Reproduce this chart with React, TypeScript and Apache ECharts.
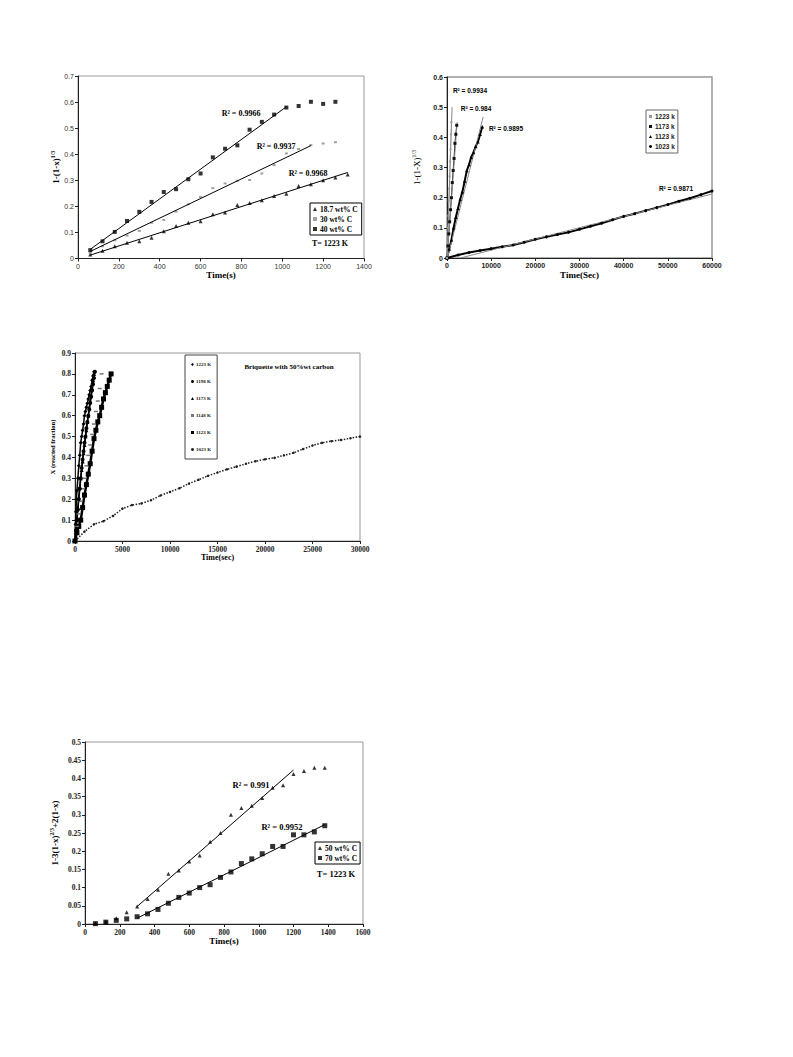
import React, { useEffect, useRef } from "react";
import * as echarts from "echarts";

const SERIF = "'Liberation Serif', 'Times New Roman', serif";
const SANS = "'Liberation Sans', Arial, sans-serif";

// ---------- Chart 1 (top-left) ----------
const c1Time187 = [60, 120, 180, 240, 300, 360, 420, 480, 540, 600, 660, 720, 780, 840, 900, 960, 1020, 1080, 1140, 1200, 1260, 1320];
const c1Time = [60, 120, 180, 240, 300, 360, 420, 480, 540, 600, 660, 720, 780, 840, 900, 960, 1020, 1080, 1140, 1200, 1260];
const c1V187 = [0.015, 0.03, 0.047, 0.06, 0.066, 0.08, 0.105, 0.125, 0.137, 0.143, 0.17, 0.176, 0.205, 0.213, 0.223, 0.24, 0.248, 0.278, 0.285, 0.3, 0.311, 0.322];
const c1V30 = [0.02, 0.047, 0.07, 0.088, 0.106, 0.137, 0.148, 0.18, 0.208, 0.236, 0.27, 0.288, 0.298, 0.301, 0.326, 0.358, 0.403, 0.42, 0.435, 0.441, 0.446];
const c1V40 = [0.032, 0.066, 0.102, 0.144, 0.179, 0.217, 0.255, 0.266, 0.304, 0.326, 0.388, 0.421, 0.434, 0.494, 0.524, 0.552, 0.579, 0.585, 0.601, 0.593, 0.601];
const c1Fit187 = [[60, 0.013], [1320, 0.33]];
const c1Fit30 = [[60, 0.027], [1140, 0.433]];
const c1Fit40 = [[60, 0.035], [1020, 0.582]];
const c1XTicks = { min: 0, max: 1400, interval: 200 };
const c1YTicks = { min: 0, max: 0.7, interval: 0.1 };

// ---------- Chart 2 (top-right) ----------
const c2T1223 = [0, 100, 200, 300, 400, 500, 600, 700, 800, 900, 1000];
const c2V1223 = [0, 0.05, 0.1, 0.14, 0.19, 0.23, 0.27, 0.32, 0.36, 0.41, 0.45];
const c2T1173 = [0, 200, 400, 600, 800, 1000, 1200, 1400, 1600, 1800, 2000, 2200];
const c2V1173 = [0, 0.04, 0.08, 0.12, 0.16, 0.2, 0.25, 0.29, 0.33, 0.38, 0.41, 0.44];
const c2T1123 = [0, 500, 1000, 1500, 2000, 2500, 3000, 3500, 4000, 4500, 5000, 5500, 6000, 6500, 7000, 7500, 8000];
const c2V1123 = [0, 0.03, 0.06, 0.1, 0.135, 0.165, 0.195, 0.22, 0.255, 0.29, 0.31, 0.335, 0.35, 0.37, 0.385, 0.41, 0.435];
const c2T1023 = [0, 2500, 5000, 7500, 10000, 12500, 15000, 17500, 20000, 22500, 25000, 27500, 30000, 32500, 35000, 37500, 40000, 42500, 45000, 47500, 50000, 52500, 55000, 57500, 60000];
const c2V1023 = [0, 0.01, 0.018, 0.025, 0.031, 0.037, 0.043, 0.052, 0.062, 0.07, 0.078, 0.085, 0.095, 0.105, 0.115, 0.127, 0.138, 0.147, 0.157, 0.167, 0.177, 0.188, 0.198, 0.21, 0.222];
const c2Fit1223 = [[0, 0], [1150, 0.5]];
const c2Fit1173 = [[0, 0], [2300, 0.45]];
const c2Fit1123 = [[0, -0.005], [8200, 0.468]];
const c2Fit1023 = [[3000, 0], [60000, 0.212]];
const c2XTicks = { min: 0, max: 60000, interval: 10000 };
const c2YTicks = { min: 0, max: 0.6, interval: 0.1 };

// ---------- Chart 3 (middle-left) ----------
const c3T1223 = [0, 50, 100, 150, 200, 300, 400, 500, 600, 700, 800, 900, 1000, 1100, 1200, 1300, 1400, 1500, 1600, 1700, 1800, 1900, 2000];
const c3V1223 = [0, 0.08, 0.14, 0.2, 0.24, 0.3, 0.36, 0.41, 0.47, 0.5, 0.53, 0.56, 0.6, 0.62, 0.64, 0.66, 0.68, 0.7, 0.72, 0.74, 0.77, 0.79, 0.81];
const c3T1198 = [0, 100, 200, 300, 400, 500, 600, 700, 800, 900, 1000, 1100, 1200, 1300, 1400, 1500, 1600, 1700, 1800, 1900, 2000, 2100];
const c3V1198 = [0, 0.05, 0.1, 0.15, 0.2, 0.25, 0.3, 0.35, 0.39, 0.43, 0.47, 0.5, 0.54, 0.57, 0.6, 0.63, 0.66, 0.69, 0.72, 0.75, 0.78, 0.81];
const c3T1173 = [0, 100, 200, 300, 400, 500, 600, 700, 800, 900, 1000, 1100, 1200, 1300, 1400, 1500, 1600, 1700, 1800, 1900, 2000];
const c3V1173 = [0, 0.06, 0.11, 0.16, 0.21, 0.26, 0.3, 0.34, 0.38, 0.42, 0.46, 0.5, 0.53, 0.57, 0.6, 0.64, 0.67, 0.7, 0.73, 0.77, 0.8];
const c3T1148 = [0, 200, 400, 600, 800, 1000, 1200, 1400, 1600, 1800, 2000, 2200, 2400, 2600, 2800];
const c3V1148 = [0, 0.07, 0.13, 0.19, 0.25, 0.3, 0.36, 0.41, 0.46, 0.51, 0.56, 0.62, 0.67, 0.73, 0.8];
const c3T1123 = [0, 200, 400, 600, 800, 1000, 1200, 1400, 1600, 1800, 2000, 2200, 2400, 2600, 2800, 3000, 3200, 3400, 3600, 3800];
const c3V1123 = [0, 0.04, 0.07, 0.1, 0.16, 0.22, 0.27, 0.32, 0.37, 0.43, 0.49, 0.53, 0.57, 0.6, 0.64, 0.68, 0.71, 0.74, 0.77, 0.8];
const c3T1023 = [0, 1000, 2000, 3000, 4000, 5000, 6000, 7000, 8000, 9000, 10000, 11000, 12000, 13000, 14000, 15000, 16000, 17000, 18000, 19000, 20000, 21000, 22000, 23000, 24000, 25000, 26000, 27000, 28000, 29000, 30000];
const c3V1023 = [0, 0.045, 0.08, 0.095, 0.12, 0.155, 0.172, 0.18, 0.195, 0.218, 0.235, 0.253, 0.275, 0.293, 0.312, 0.328, 0.343, 0.356, 0.37, 0.382, 0.391, 0.398, 0.41, 0.422, 0.44, 0.457, 0.47, 0.478, 0.484, 0.492, 0.5];
const c3XTicks = { min: 0, max: 30000, interval: 5000 };
const c3YTicks = { min: 0, max: 0.9, interval: 0.1 };

// ---------- Chart 4 (bottom-left) ----------
const c4Time = [60, 120, 180, 240, 300, 360, 420, 480, 540, 600, 660, 720, 780, 840, 900, 960, 1020, 1080, 1140, 1200, 1260, 1320, 1380];
const c4V50 = [0.002, 0.007, 0.016, 0.032, 0.048, 0.069, 0.094, 0.138, 0.147, 0.172, 0.188, 0.226, 0.25, 0.3, 0.319, 0.325, 0.346, 0.374, 0.381, 0.412, 0.42, 0.429, 0.429];
const c4V70 = [0.001, 0.005, 0.01, 0.014, 0.02, 0.028, 0.04, 0.057, 0.073, 0.085, 0.1, 0.108, 0.128, 0.143, 0.166, 0.179, 0.193, 0.213, 0.213, 0.245, 0.245, 0.253, 0.27];
const c4Fit50 = [[300, 0.048], [1200, 0.423]];
const c4Fit70 = [[300, 0.016], [1380, 0.273]];
const c4XTicks = { min: 0, max: 1600, interval: 200 };
const c4YTicks = { min: 0, max: 0.5, interval: 0.05 };

const pairs = (xs: number[], ys: number[]) => xs.map((x, i) => [x, ys[i]]);
const fmt = (v: number) => String(+v.toFixed(3));

function axis(gi: number, t: any, label: any, name: string, nameStyle: any, gap: number) {
  return {
    type: "value",
    gridIndex: gi,
    min: t.min,
    max: t.max,
    interval: t.interval,
    name,
    nameLocation: "middle",
    nameGap: gap,
    nameTextStyle: nameStyle,
    axisLine: { show: true, onZero: false, lineStyle: { color: "#222", width: 1 } },
    axisTick: { show: true, length: 3, lineStyle: { color: "#222" } },
    splitLine: { show: false },
    axisLabel: { formatter: fmt, margin: 4, ...label },
  };
}

const supRich = (font: string, size: number, weight: string) => ({
  m: { fontFamily: font, fontSize: size, fontWeight: weight, color: "#000", lineHeight: 12 },
  s: { fontFamily: font, fontSize: size * 0.65, fontWeight: weight, color: "#000", lineHeight: 6, verticalAlign: "top" },
});

function scatter(name: string, xi: number, data: any, symbol: any, size: any, color: string) {
  return { name, type: "scatter", xAxisIndex: xi, yAxisIndex: xi, data, symbol, symbolSize: size, itemStyle: { color }, silent: true };
}
function dense(name: string, xi: number, data: any, symbol: any, size: any, color: string, lw: number, ltype: string = "solid") {
  return {
    name, type: "line", xAxisIndex: xi, yAxisIndex: xi, data, symbol, symbolSize: size, showSymbol: true,
    itemStyle: { color }, lineStyle: { color, width: lw, type: ltype }, silent: true,
  };
}
function fit(xi: number, data: any, color: string) {
  return { name: "fit", type: "line", xAxisIndex: xi, yAxisIndex: xi, data, symbol: "none", lineStyle: { color, width: 1 }, silent: true };
}
function txt(text: string, x: number, y: number, font: string) {
  return { type: "text", x, y, silent: true, style: { text, fill: "#000", font, textAlign: "center", textVerticalAlign: "middle", align: "center", verticalAlign: "middle" } };
}

export default function App() {
  const ref = useRef<HTMLDivElement>(null);
  useEffect(() => {
    if (!ref.current) return;
    const chart = echarts.init(ref.current, undefined, { renderer: "svg" });
    const gridBase = { show: true, borderColor: "#999", borderWidth: 1, containLabel: false, outerBoundsMode: "none" };
    const lbl1 = { fontFamily: SANS, fontSize: 7, color: "#333" };
    const lbl2 = { fontFamily: SANS, fontSize: 7, fontWeight: "bold", color: "#222" };
    const lblS = { fontFamily: SERIF, fontSize: 7.5, fontWeight: "bold", color: "#222" };
    const nameB = { fontFamily: SERIF, fontSize: 9, fontWeight: "bold", color: "#000" };
    const option: any = {
      animation: false,
      backgroundColor: "#fff",
      grid: [
        { ...gridBase, left: 78, top: 76, width: 286, height: 182.5 },
        { ...gridBase, left: 447, top: 77, width: 265, height: 181, borderWidth: 1.5 },
        { ...gridBase, left: 75, top: 353, width: 285, height: 188 },
        { ...gridBase, left: 85, top: 742, width: 278, height: 182 },
      ],
      xAxis: [
        axis(0, c1XTicks, lbl1, "Time(s)", nameB, 12),
        axis(1, c2XTicks, lbl2, "Time(Sec)", nameB, 12),
        axis(2, c3XTicks, lblS, "Time(sec)", { ...nameB, fontSize: 8 }, 12),
        axis(3, c4XTicks, lblS, "Time(s)", nameB, 12),
      ],
      yAxis: [
        axis(0, c1YTicks, lbl1, "{m|1-(1-x)}{s|1/3}", { rich: supRich(SERIF, 9, "bold") }, 16),
        axis(1, c2YTicks, lbl2, "{m|1-(1-X)}{s|1/3}", { rich: supRich(SERIF, 9, "normal") }, 24),
        axis(2, c3YTicks, lblS, "X (reacted fraction)", { ...nameB, fontSize: 6.5 }, 19),
        axis(3, c4YTicks, lblS, "{m|1-3(1-x)}{s|2/3}{m|+2(1-x)}", { rich: supRich(SERIF, 9, "bold") }, 24),
      ],
      legend: [
        {
          data: [{ name: "18.7 wt% C", icon: "triangle" }, { name: "30 wt% C", icon: "rect" }, { name: "40 wt% C", icon: "rect" }],
          orient: "vertical", left: 310, top: 203, borderColor: "#000", borderWidth: 1, padding: [2, 4, 2, 3],
          itemGap: 2, itemWidth: 4, itemHeight: 4, selectedMode: false,
          textStyle: { fontFamily: SERIF, fontWeight: "bold", fontSize: 7.5, color: "#000", padding: [0, 0, 0, -2] },
        },
        {
          data: [{ name: "1223 k", icon: "rect" }, { name: "1173 k", icon: "rect" }, { name: "1123 k", icon: "triangle" }, { name: "1023 k", icon: "circle" }],
          orient: "vertical", left: 646, top: 110, borderColor: "#666", borderWidth: 1, padding: [3, 3, 3, 3],
          itemGap: 3, itemWidth: 3, itemHeight: 3, selectedMode: false,
          textStyle: { fontFamily: SANS, fontWeight: "bold", fontSize: 6.5, color: "#222", padding: [0, 0, 0, -2] },
        },
        {
          data: [{ name: "1223 K", icon: "diamond" }, { name: "1198 K", icon: "circle" }, { name: "1173 K", icon: "triangle" }, { name: "1148 K", icon: "rect" }, { name: "1123 K", icon: "rect" }, { name: "1023 K", icon: "circle" }],
          orient: "vertical", left: 185, top: 355, borderColor: "#444", borderWidth: 1, padding: [7, 6, 7, 6],
          itemGap: 12, itemWidth: 3, itemHeight: 3, selectedMode: false,
          textStyle: { fontFamily: SERIF, fontWeight: "bold", fontSize: 5, color: "#222", padding: [0, 0, 0, -3] },
        },
        {
          data: [{ name: "50 wt% C", icon: "triangle" }, { name: "70 wt% C", icon: "rect" }],
          orient: "vertical", left: 315, top: 842, borderColor: "#000", borderWidth: 1, padding: [2, 3, 2, 3],
          itemGap: 2, itemWidth: 4, itemHeight: 4, selectedMode: false,
          textStyle: { fontFamily: SERIF, fontWeight: "bold", fontSize: 7.5, color: "#000", padding: [0, 0, 0, -2] },
        },
      ],
      series: [
        fit(0, c1Fit187, "#000"),
        fit(0, c1Fit30, "#000"),
        fit(0, c1Fit40, "#000"),
        scatter("18.7 wt% C", 0, pairs(c1Time187, c1V187), "triangle", 4, "#000"),
        scatter("30 wt% C", 0, pairs(c1Time, c1V30), "rect", [3, 2], "#888"),
        scatter("40 wt% C", 0, pairs(c1Time, c1V40), "rect", 4, "#000"),
        dense("1023 k", 1, pairs(c2T1023, c2V1023), "circle", 3, "#000", 2),
        dense("1123 k", 1, pairs(c2T1123, c2V1123), "triangle", 3.5, "#000", 2),
        dense("1173 k", 1, pairs(c2T1173, c2V1173), "rect", 3, "#111", 1),
        dense("1223 k", 1, pairs(c2T1223, c2V1223), "rect", 2, "#999", 0.6),
        fit(1, c2Fit1223, "#888"),
        fit(1, c2Fit1173, "#888"),
        fit(1, c2Fit1123, "#888"),
        fit(1, c2Fit1023, "#888"),
        dense("1023 K", 2, pairs(c3T1023, c3V1023), "circle", 2.5, "#222", 1.5, "dotted"),
        dense("1123 K", 2, pairs(c3T1123, c3V1123), "rect", 5, "#000", 2.5),
        dense("1148 K", 2, pairs(c3T1148, c3V1148), "rect", [4, 1.5], "#777", 0),
        dense("1173 K", 2, pairs(c3T1173, c3V1173), "triangle", 4, "#000", 1.5),
        dense("1198 K", 2, pairs(c3T1198, c3V1198), "circle", 4, "#000", 1.5),
        dense("1223 K", 2, pairs(c3T1223, c3V1223), "diamond", 4, "#000", 1.5),
        fit(3, c4Fit50, "#000"),
        fit(3, c4Fit70, "#000"),
        scatter("50 wt% C", 3, pairs(c4Time, c4V50), "triangle", 4, "#000"),
        scatter("70 wt% C", 3, pairs(c4Time, c4V70), "rect", 5, "#000"),
      ],
      graphic: [
        txt("R² = 0.9966", 241, 113, `bold 8px ${SERIF}`),
        txt("R² = 0.9937", 276, 146, `bold 8px ${SERIF}`),
        txt("R² = 0.9968", 308, 173, `bold 8px ${SERIF}`),
        txt("T= 1223 K", 330, 243, `bold 8px ${SERIF}`),
        txt("R² = 0.9934", 470, 90, `bold 6.5px ${SANS}`),
        txt("R² = 0.984", 476, 108, `bold 6.5px ${SANS}`),
        txt("R² = 0.9895", 506, 128, `bold 6.5px ${SANS}`),
        txt("R² = 0.9871", 676, 188, `bold 6.5px ${SANS}`),
        txt("Briquette with 50%wt carbon", 289, 367, `bold 7px ${SERIF}`),
        txt("R² = 0.991", 251, 785, `bold 8.5px ${SERIF}`),
        txt("R² = 0.9952", 282, 827, `bold 8.5px ${SERIF}`),
        txt("T= 1223 K", 336, 874, `bold 8.5px ${SERIF}`),
      ],
    };
    chart.setOption(option);
    return () => chart.dispose();
  }, []);
  return <div ref={ref} style={{ position: "absolute", left: 0, top: 0, width: 793, height: 1057 }} />;
}
